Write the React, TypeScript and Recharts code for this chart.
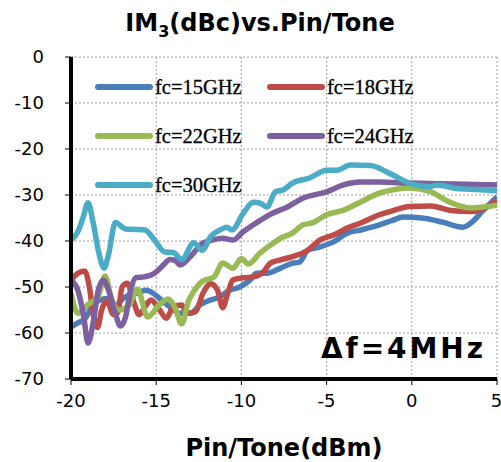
import React from 'react';
import { LineChart, Line, XAxis, YAxis, CartesianGrid, Legend, Customized } from 'recharts';

const xTicks = [-20, -15, -10, -5, 0, 5];
const yTicks = [-70, -60, -50, -40, -30, -20, -10, 0];

const fc15: [number, number][] = [
  [-20, -58.7], [-19.6, -57.8], [-19.2, -57], [-18.8, -54.5], [-18.4, -53], [-17.9, -52.5],
  [-17.5, -55], [-17.1, -53], [-16.6, -51.8], [-16.1, -51.3], [-15.6, -50.7], [-15.2, -51.3],
  [-14.8, -52.5], [-14.2, -54.3], [-13.6, -55.7], [-13.0, -55.7], [-12.4, -53.8], [-11.8, -52.8],
  [-11.3, -52.2], [-10.7, -50.7], [-10.1, -50], [-9.5, -48.5], [-9.1, -47], [-8.5, -47],
  [-7.7, -45.9], [-7.0, -44.8], [-6.6, -44.6], [-6.1, -42], [-5.6, -41.5], [-4.6, -40.2],
  [-3.8, -38.3], [-3.0, -37.6], [-1.9, -36.5], [-1.2, -35.6], [-0.5, -34.8], [0.6, -35],
  [1.8, -35.9], [3.0, -37], [3.5, -36], [4.2, -33.3], [5, -30.4],
];

const fc18: [number, number][] = [
  [-20, -48.5], [-19.6, -47], [-19.2, -46.5], [-18.9, -50.5], [-18.7, -56], [-18.45, -58.8],
  [-18.2, -55], [-17.9, -53], [-17.5, -56], [-17.25, -55.5], [-17.0, -50], [-16.7, -49.2],
  [-16.3, -53.5], [-16.0, -56], [-15.6, -54], [-15.3, -52.8], [-14.8, -55], [-14.4, -56.8],
  [-14.0, -54.3], [-13.5, -53.9], [-13.2, -55.7], [-12.7, -55.4], [-12.25, -51.3], [-11.8, -49.3],
  [-11.4, -50.7], [-11.1, -54.5], [-10.8, -51.3], [-10.5, -48.5], [-9.9, -48], [-9.3, -47.8],
  [-8.7, -46.7], [-8.3, -44.8], [-7.7, -44.1], [-7.0, -43.4], [-6.1, -42], [-5.4, -39.8],
  [-4.6, -38.7], [-3.8, -37.2], [-3.0, -36.1], [-1.9, -34.3], [-1.3, -33.6], [-0.1, -32.5],
  [1.1, -32.4], [2.2, -33.3], [3.4, -33.6], [4.6, -32.2], [5, -31.1],
];

const fc22: [number, number][] = [
  [-20, -51.3], [-19.6, -55.7], [-19.0, -53.8], [-18.4, -52], [-18.0, -47.6], [-17.6, -52.8],
  [-17.2, -55], [-16.6, -54], [-16.1, -50.5], [-15.5, -56.5], [-14.8, -53.8], [-14.3, -52.6],
  [-13.9, -54.5], [-13.5, -58], [-13.1, -53], [-12.8, -51], [-12.3, -48.8], [-11.6, -47.8],
  [-11.1, -44.8], [-10.5, -45.9], [-10.0, -43.8], [-9.6, -45], [-8.9, -42.6], [-8.3, -40.9],
  [-7.7, -39.4], [-7.0, -38.3], [-6.4, -36.5], [-5.8, -36], [-5.0, -34.3], [-4.0, -33.3],
  [-3.0, -31.5], [-1.9, -29.6], [-1.0, -28.8], [-0.1, -28.5], [1.1, -29.3], [2.2, -31.5],
  [3.4, -32.8], [5, -32.2],
];

const fc24: [number, number][] = [
  [-20, -48.5], [-19.6, -50.7], [-19.25, -56.5], [-19.0, -62.2], [-18.7, -57.8], [-18.4, -50.7],
  [-18.1, -48.5], [-17.8, -50.7], [-17.4, -55.7], [-17.1, -58.5], [-16.8, -56.5], [-16.5, -50.7],
  [-16.2, -48], [-15.7, -47.8], [-15.1, -47], [-14.6, -45.3], [-14.2, -44], [-13.9, -44.2],
  [-13.6, -45.2], [-13.0, -43.4], [-12.25, -40.4], [-11.7, -39.8], [-11.1, -39.4], [-10.5, -39.8],
  [-9.9, -38], [-9.1, -36], [-8.3, -34.2], [-7.3, -32.6], [-6.4, -30.7], [-5.0, -29.3],
  [-4.0, -27.8], [-3.0, -27.2], [-1.9, -27.2], [-0.1, -27.4], [2.5, -27.6], [5, -27.8],
];

const fc30: [number, number][] = [
  [-20, -39.8], [-19.6, -38], [-19.3, -35], [-19.0, -31.7], [-18.7, -36], [-18.4, -42],
  [-18.06, -45.9], [-17.8, -43], [-17.4, -36], [-16.8, -37.4], [-16.2, -37.5], [-15.66, -37.6],
  [-15.1, -39.8], [-14.5, -42.4], [-14.0, -42.5], [-13.5, -44], [-12.8, -40.4], [-12.3, -42],
  [-11.8, -39], [-11.2, -37.5], [-10.85, -37], [-10.55, -37.6], [-9.9, -34], [-9.3, -31.6],
  [-8.9, -31.8], [-8.5, -32.6], [-8.0, -29.3], [-7.56, -28.9], [-7.0, -27.4], [-6.0, -26.3],
  [-5.0, -24.6], [-4.4, -24.6], [-3.6, -23.5], [-2.45, -23.6], [-1.3, -25.3], [-0.1, -27.5],
  [1.07, -28.2], [1.5, -27.8], [2.65, -28.6], [3.8, -28.8], [5, -29.1],
];

const seriesNames = ['fc=15GHz', 'fc=18GHz', 'fc=22GHz', 'fc=24GHz', 'fc=30GHz'];
const seriesColors = ['#4A7EBB', '#BE4B48', '#98B954', '#7D60A0', '#4BACC6'];
const seriesData = [fc15, fc18, fc22, fc24, fc30];

const toRows = (pts: [number, number][]) => pts.map(([x, y]) => ({ x, y }));

const FONT = '"DejaVu Sans", Verdana, sans-serif';

const LegendContent = () => {
  const pos = [
    [0, 0], [172, 0], [0, 49], [172, 49], [0, 98],
  ];
  return (
    <div style={{ position: 'relative', width: 0, height: 0, overflow: 'visible' }}>
      {seriesNames.map((n, i) => (
        <div key={n} style={{ position: 'absolute', left: pos[i][0], top: pos[i][1], display: 'flex', alignItems: 'center', whiteSpace: 'nowrap' }}>
          <svg width={58} height={8} style={{ display: 'block' }}>
            <line x1={3} y1={4} x2={55} y2={4} stroke={seriesColors[i]} strokeWidth={6} strokeLinecap="round" />
          </svg>
          <span style={{ fontFamily: '"Liberation Serif", "Times New Roman", serif', fontSize: 20.5, color: '#000', marginLeft: 2, lineHeight: '24px', WebkitTextStroke: '0.3px #000' }}>{n}</span>
        </div>
      ))}
    </div>
  );
};

const Overlay = () => (
  <g>
    <text x={260} y={31} textAnchor="middle" fontFamily={FONT} fontWeight="bold" fontSize={24} fill="#000">
      IM<tspan fontSize={16} dy={6}>3</tspan><tspan dy={-6}>(dBc)vs.Pin/Tone</tspan>
    </text>
    <text x={321} y={358} fontFamily={FONT} fontWeight="bold" fontSize={28} fill="#000" textLength={162} lengthAdjust="spacing">
      Δf=4MHz
    </text>
  </g>
);

export default function App() {
  return (
    <div style={{ position: 'absolute', left: 0, top: 0 }}>
      <LineChart width={501} height={462} margin={{ top: 57, right: 4, bottom: 0, left: 0 }}>
        <CartesianGrid stroke="#A0A0A0" strokeDasharray="2 2" strokeWidth={1} />
        <XAxis
          dataKey="x"
          type="number"
          domain={[-20, 5]}
          ticks={xTicks}
          allowDataOverflow
          height={83}
          tickSize={6}
          tickMargin={9}
          axisLine={{ stroke: '#000', strokeWidth: 4 }}
          tickLine={{ stroke: '#000', strokeWidth: 1 }}
          tick={{ fontSize: 18, fill: '#000', fontFamily: FONT }}
          label={{ value: 'Pin/Tone(dBm)', position: 'insideBottom', offset: 6, fontSize: 24, fontWeight: 'bold', fill: '#000', fontFamily: FONT }}
        />
        <XAxis
          xAxisId="top"
          orientation="top"
          type="number"
          domain={[-20, 5]}
          height={0}
          tick={false}
          tickLine={false}
          axisLine={{ stroke: '#000', strokeWidth: 3 }}
        />
        <YAxis
          type="number"
          domain={[-70, 0]}
          ticks={yTicks}
          width={71}
          tickSize={6}
          tickMargin={21}
          axisLine={{ stroke: '#000', strokeWidth: 4 }}
          tickLine={{ stroke: '#000', strokeWidth: 1 }}
          tick={{ fontSize: 18, fill: '#000', fontFamily: FONT }}
        />
        <YAxis
          yAxisId="right"
          orientation="right"
          type="number"
          domain={[-70, 0]}
          width={0}
          tick={false}
          tickLine={false}
          axisLine={{ stroke: '#000', strokeWidth: 4 }}
        />
        {seriesData.map((d, i) => (
          <Line
            key={seriesNames[i]}
            name={seriesNames[i]}
            data={toRows(d)}
            dataKey="y"
            type="monotone"
            stroke={seriesColors[i]}
            strokeWidth={5.5}
            strokeLinejoin="round"
            dot={false}
            activeDot={false}
            isAnimationActive={false}
          />
        ))}
        <Legend
          content={<LegendContent />}
          wrapperStyle={{ position: 'absolute', left: 95, top: 75, width: 0, height: 0, overflow: 'visible' }}
        />
        <Customized component={Overlay} />
      </LineChart>
    </div>
  );
}
